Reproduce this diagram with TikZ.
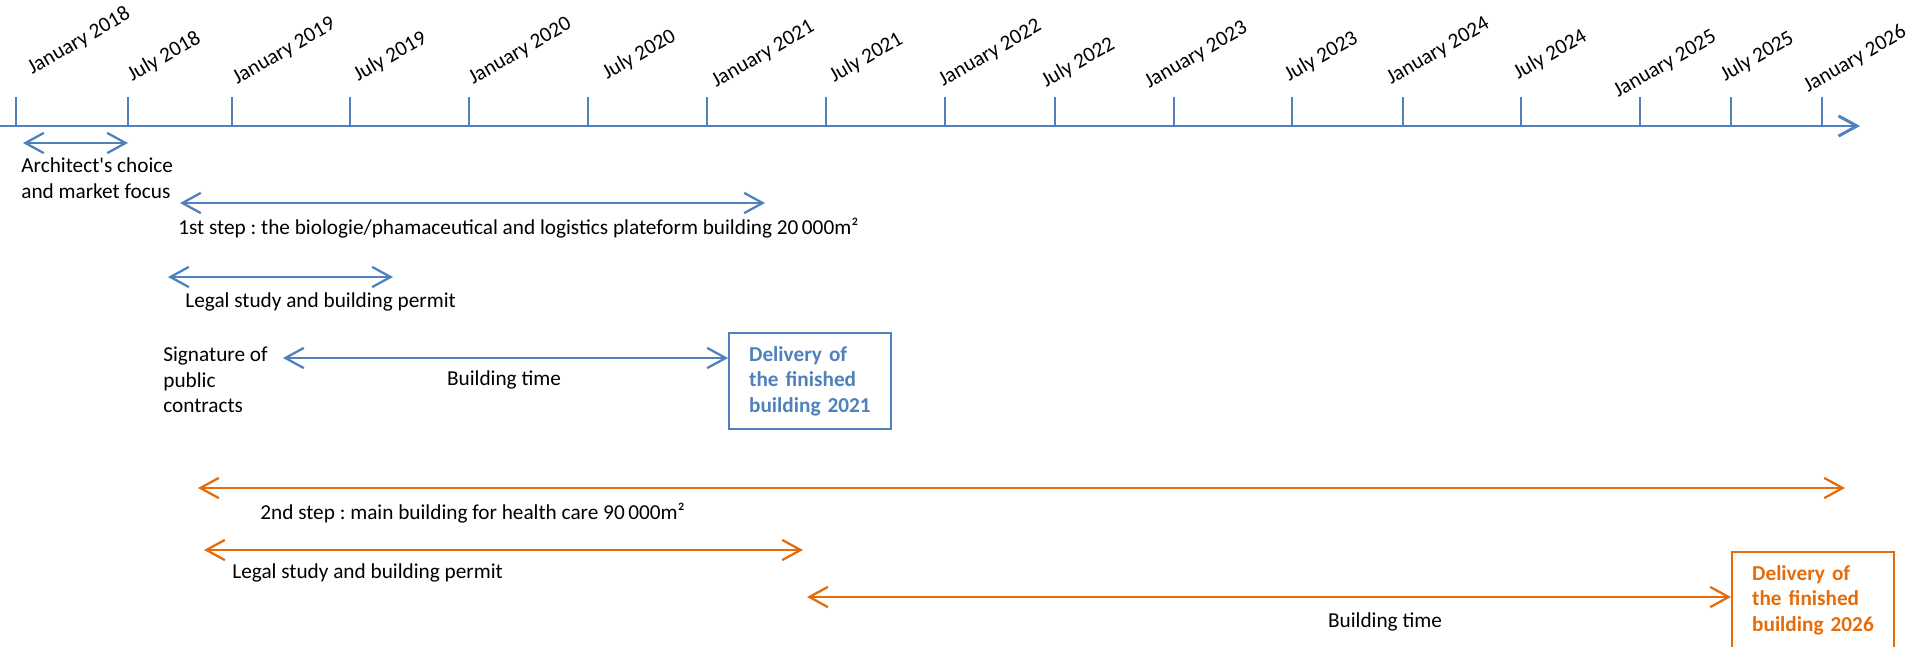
\documentclass[tikz,border=0pt]{standalone}
\usepackage{fontspec}
\setmainfont{Carlito}
\usetikzlibrary{positioning,arrows.meta}
\definecolor{offblue}{RGB}{79,129,189}
\definecolor{offorange}{RGB}{228,108,10}
\frenchspacing

\begin{document}
\begin{tikzpicture}[x=0.02cm,y=-0.02cm,
						txt/.style={inner sep=0pt,anchor=west,align=left,font=\fontsize{12.1}{14.6}\selectfont},
						span/.style={line width=1.3pt,{Straight Barb[length=10.5pt,width=11.5pt]}-{Straight Barb[length=10.5pt,width=11.5pt]}},
						deliv/.style={draw,line width=1.3pt,anchor=north west,minimum width=3.24cm,minimum height=1.92cm,
							text width=2.44cm,inner xsep=0.4cm,inner ysep=0pt,align=left,font=\fontsize{12.1}{14.6}\selectfont\bfseries}]
		\useasboundingbox (0,0) rectangle (1915,646);

		\draw[offblue,line width=1.7pt,-{Straight Barb[length=10.5pt,width=11.5pt]}] (0,126) -- (1860,126);
		\foreach \tx/\lx/\ly/\lab in {16/32/75/January 2018,128/132/82/July 2018,232/237/85/January 2019,
				350/358/82/July 2019,469/473/85/January 2020,588/607/80/July 2020,707/716/88/January 2021,
				826/834/83/July 2021,945/943/87/January 2022,1055/1046/88/July 2022,1174/1149/89/January 2023,
				1292/1289/82/July 2023,1403/1391/85/January 2024,1521/1518/80/July 2024,1640/1618/98/January 2025,
				1731/1725/82/July 2025,1822/1808/93/January 2026}{
			\draw[offblue,line width=1.1pt] (\tx,97) -- (\tx,126);
			\node[txt,anchor=base west,rotate=30] (lab\tx) at (\lx,\ly) {\lab};
		}

		\coordinate (a0) at (23,143);
		\coordinate (a1) at (128,143);
		\node[txt]						(arch)	at (21,178)	{Architect\textquotesingle s choice\\and market focus};
		\coordinate (s0) at (180,203);
		\coordinate (s1) at (765,203);
		\node[txt]						(step1)	at (178,228)	{1st step : the biologie/phamaceutical and logistics plateform building 20\,000m²};
		\coordinate (l0) at (168,277);
		\coordinate (l1) at (393,277);
		\node[txt]						(legal1)	at (185,302)	{Legal study and building permit};
		\node[txt]						(sign)	at (163,380)	{Signature of\\public\\contracts};
		\coordinate (b0) at (283,358);
		\node[deliv,draw=offblue,text=offblue]	(box1)	at (728,332)	{Delivery of\\the finished\\building 2021};
		\node[txt,anchor=center]			(time1)	at (504,380)	{Building time};

		\coordinate (m0) at (198,488);
		\coordinate (m1) at (1845,488);
		\node[txt]						(step2)	at (260,513)	{2nd step : main building for health care 90\,000m²};
		\coordinate (k0) at (204,550);
		\coordinate (k1) at (803,550);
		\node[txt]						(legal2)	at (232,573)	{Legal study and building permit};
		\coordinate (c0) at (807,597);
		\node[deliv,draw=offorange,text=offorange]	(box2)	at (1731,551)	{Delivery of\\the finished\\building 2026};
		\node[txt,anchor=center]			(time2)	at (1385,622)	{Building time};

		\draw[span,offblue] (a0) -- (a1);
		\draw[span,offblue] (s0) -- (s1);
		\draw[span,offblue] (l0) -- (l1);
		\draw[span,offblue] (b0) -- (b0 -| box1.west);
		\draw[span,offorange] (m0) -- (m1);
		\draw[span,offorange] (k0) -- (k1);
		\draw[span,offorange] (c0) -- (c0 -| box2.west);
	\end{tikzpicture}
\end{document}
